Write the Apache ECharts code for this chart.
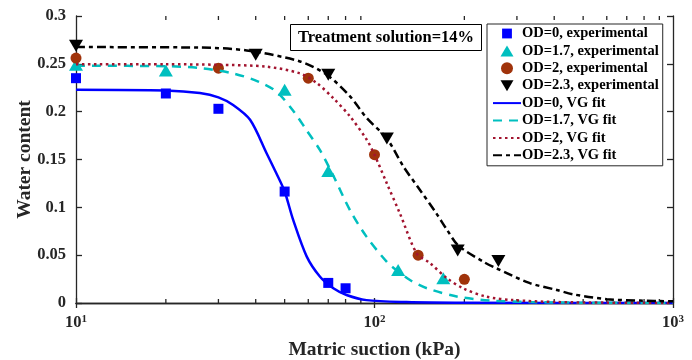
<!DOCTYPE html>
<html>
<head>
<meta charset="utf-8">
<script src="https://cdn.jsdelivr.net/npm/echarts@6/dist/echarts.min.js"></script>
<style>
  html, body { margin: 0; padding: 0; background: #fff; }
  #chart { width: 692px; height: 360px; }
</style>
</head>
<body>
<div id="chart"></div>
<script>
  // measured points
  const od0ExpX = [10, 20, 30, 50, 70, 80];
  const od0ExpY = [0.235, 0.219, 0.203, 0.1165, 0.021, 0.0154];
  const od17ExpX = [10, 20, 50, 70, 120, 170];
  const od17ExpY = [0.249, 0.243, 0.223, 0.138, 0.0345, 0.026];
  const od2ExpX = [10, 30, 60, 100, 140, 200];
  const od2ExpY = [0.256, 0.2455, 0.235, 0.155, 0.050, 0.0248];
  const od23ExpX = [10, 40, 70, 110, 190, 260];
  const od23ExpY = [0.269, 0.2595, 0.2386, 0.172, 0.055, 0.044];

  // VG fit curves
  const od0FitX = [10, 20, 26, 30, 33.6, 38.3, 43.5, 46.9, 50, 53.4, 59.3, 65.7, 72.8, 80.6, 94, 128, 200, 1000];
  const od0FitY = [0.223, 0.2222, 0.2195, 0.215, 0.207, 0.1915, 0.1566, 0.1356, 0.1165, 0.0868, 0.0485, 0.0275, 0.0154, 0.0084, 0.003, 0.001, 0.0003, 0];
  const od17FitX = [10, 20, 26, 33.6, 40.8, 46.9, 53.4, 59.1, 65.6, 72.8, 82.8, 94, 110, 120, 131.5, 150, 190, 244, 330, 500, 1000];
  const od17FitY = [0.248, 0.2475, 0.2456, 0.240, 0.2315, 0.221, 0.201, 0.181, 0.160, 0.133, 0.097, 0.0694, 0.043, 0.033, 0.024, 0.0154, 0.0066, 0.0026, 0.001, 0.0003, 0];
  const od2FitX = [10, 20, 30, 43.5, 56.3, 64, 72.8, 82.8, 94.2, 100, 110, 121.7, 138.6, 153, 175, 198, 237, 292, 408, 600, 1000];
  const od2FitY = [0.2495, 0.2495, 0.249, 0.247, 0.240, 0.230, 0.214, 0.195, 0.1706, 0.155, 0.125, 0.0935, 0.0517, 0.042, 0.0258, 0.0154, 0.0066, 0.003, 0.001, 0.0004, 0];
  const od23FitX = [10, 26, 37.3, 56.3, 69.2, 82.8, 94.2, 110, 125, 142, 161, 175, 191, 232, 256, 330, 408, 464, 600, 775, 1000];
  const od23FitY = [0.2675, 0.267, 0.264, 0.2525, 0.2386, 0.216, 0.1933, 0.172, 0.1426, 0.1182, 0.0939, 0.0764, 0.060, 0.043, 0.0363, 0.021, 0.0136, 0.009, 0.004, 0.0025, 0.0018];

  // axis ticks
  const yTicks = [0, 0.05, 0.1, 0.15, 0.2, 0.25, 0.3];
  const xMinorTicks = [20, 30, 40, 50, 60, 70, 80, 90, 200, 300, 400, 500, 600, 700, 800, 900];

  const serif = "'Liberation Serif', 'Times New Roman', serif";
  const axisColor = "#262626";
  const zip = (xs, ys) => xs.map((x, i) => [x, ys[i]]);
  const downTri = "path://M0,0L20,0L10,17Z";
  const clear = "rgba(0,0,0,0)";

  // legend icons (padded so the marks keep their size)
  const icoSquare = "path://M-1,-1M0,0H9V9H0ZM10,10";
  const icoUp = "path://M6.5,-0.5M0,11L6.5,0L13,11ZM6.5,11.5";
  const icoDown = "path://M6.5,-0.5M0,0L13,0L6.5,11ZM6.5,11.5";

  const myChart = echarts.init(document.getElementById("chart"));

  const tickSeries = (y, offset) => ({
    type: "scatter",
    silent: true,
    clip: false,
    symbol: "rect",
    symbolSize: [1.3, 4],
    symbolOffset: [0, offset],
    itemStyle: { color: axisColor, opacity: 1 },
    data: xMinorTicks.map(v => [v, y]),
    z: 1
  });

  const fitLine = (name, color, type, xs, ys) => ({
    name: name,
    type: "line",
    smooth: 0.3,
    symbol: "none",
    lineStyle: { color: color, width: 2.5, type: type },
    itemStyle: { color: clear },
    data: zip(xs, ys),
    z: 4
  });

  const option = {
    animation: false,
    title: {
      text: "Treatment solution=14%",
      left: 290,
      top: 24,
      padding: [5, 8],
      borderColor: "#000",
      borderWidth: 1,
      backgroundColor: "#fff",
      textStyle: { fontFamily: serif, fontWeight: "bold", fontSize: 16.5, color: "#000" }
    },
    legend: {
      orient: "vertical",
      left: 487,
      top: 24,
      padding: [2, 4, 3, 5],
      itemWidth: 28,
      itemHeight: 12,
      itemGap: 2.4,
      borderColor: axisColor,
      borderWidth: 1,
      backgroundColor: "#fff",
      textStyle: { fontFamily: serif, fontWeight: "bold", fontSize: 14.5, color: "#000", padding: [0, 0, 0, -4] },
      data: [
        { name: "OD=0, experimental", icon: icoSquare },
        { name: "OD=1.7, experimental", icon: icoUp },
        { name: "OD=2, experimental", icon: "circle" },
        { name: "OD=2.3, experimental", icon: icoDown },
        "OD=0, VG fit", "OD=1.7, VG fit", "OD=2, VG fit", "OD=2.3, VG fit"
      ]
    },
    grid: { left: 76, right: 19, top: 16, bottom: 57, outerBoundsMode: "none", containLabel: false },
    xAxis: [
      {
        type: "log",
        logBase: 10,
        min: 10,
        max: 1000,
        name: "Matric suction (kPa)",
        nameLocation: "middle",
        nameGap: 37,
        nameMoveOverlap: false,
        nameTextStyle: { fontFamily: serif, fontWeight: "bold", fontSize: 19.5, color: axisColor },
        axisLine: { lineStyle: { color: axisColor, width: 1.3 } },
        axisTick: { inside: true, length: 5, lineStyle: { color: axisColor, width: 1.3 } },
        splitLine: { show: false },
        axisLabel: {
          margin: 11,
          formatter: v => "{b|10}{s|" + Math.round(Math.log10(v)) + "}",
          rich: {
            b: { fontFamily: serif, fontWeight: "bold", fontSize: 16.5, color: axisColor, lineHeight: 18 },
            s: { fontFamily: serif, fontWeight: "bold", fontSize: 11, color: axisColor, verticalAlign: "top", lineHeight: 10 }
          }
        }
      },
      {
        type: "log",
        logBase: 10,
        min: 10,
        max: 1000,
        position: "top",
        axisLine: { lineStyle: { color: axisColor, width: 1.3 } },
        axisTick: { inside: true, length: 5, lineStyle: { color: axisColor, width: 1.3 } },
        axisLabel: { show: false },
        splitLine: { show: false }
      }
    ],
    yAxis: [
      {
        type: "value",
        min: 0,
        max: 0.3,
        interval: 0.05,
        name: "Water content",
        nameLocation: "middle",
        nameGap: 41,
        nameMoveOverlap: false,
        nameTextStyle: { fontFamily: serif, fontWeight: "bold", fontSize: 19.5, color: axisColor },
        axisLine: { show: true, lineStyle: { color: axisColor, width: 1.3 } },
        axisTick: { show: true, inside: true, length: 6, lineStyle: { color: axisColor, width: 1.3 } },
        splitLine: { show: false },
        axisLabel: {
          margin: 10,
          fontFamily: serif,
          fontWeight: "bold",
          fontSize: 16.5,
          color: axisColor,
          customValues: yTicks,
          formatter: v => String(+v.toFixed(2))
        }
      },
      {
        type: "value",
        min: 0,
        max: 0.3,
        interval: 0.05,
        position: "right",
        axisLine: { show: true, lineStyle: { color: axisColor, width: 1.3 } },
        axisTick: { show: true, inside: true, length: 6, lineStyle: { color: axisColor, width: 1.3 } },
        axisLabel: { show: false },
        splitLine: { show: false }
      }
    ],
    series: [
      tickSeries(0, -2),
      tickSeries(0.3, 2),
      {
        name: "OD=0, experimental", type: "scatter", symbol: "rect", symbolSize: 10,
        itemStyle: { color: "#0000ff", opacity: 1 }, data: zip(od0ExpX, od0ExpY), z: 3
      },
      {
        name: "OD=1.7, experimental", type: "scatter", symbol: "triangle", symbolSize: [14, 12],
        itemStyle: { color: "#00bfbf", opacity: 1 }, data: zip(od17ExpX, od17ExpY), z: 3
      },
      {
        name: "OD=2, experimental", type: "scatter", symbol: "circle", symbolSize: 11,
        itemStyle: { color: "#a0330b", opacity: 1 }, data: zip(od2ExpX, od2ExpY), z: 3
      },
      {
        name: "OD=2.3, experimental", type: "scatter", symbol: downTri, symbolSize: [14, 12],
        itemStyle: { color: "#000", opacity: 1 }, data: zip(od23ExpX, od23ExpY), z: 3
      },
      fitLine("OD=0, VG fit", "#0000ff", "solid", od0FitX, od0FitY),
      fitLine("OD=1.7, VG fit", "#00bfbf", [9, 7], od17FitX, od17FitY),
      fitLine("OD=2, VG fit", "#a2142f", [2.5, 3.5], od2FitX, od2FitY),
      fitLine("OD=2.3, VG fit", "#000", [9, 4, 4, 4], od23FitX, od23FitY)
    ]
  };

  myChart.setOption(option);
</script>
</body>
</html>
